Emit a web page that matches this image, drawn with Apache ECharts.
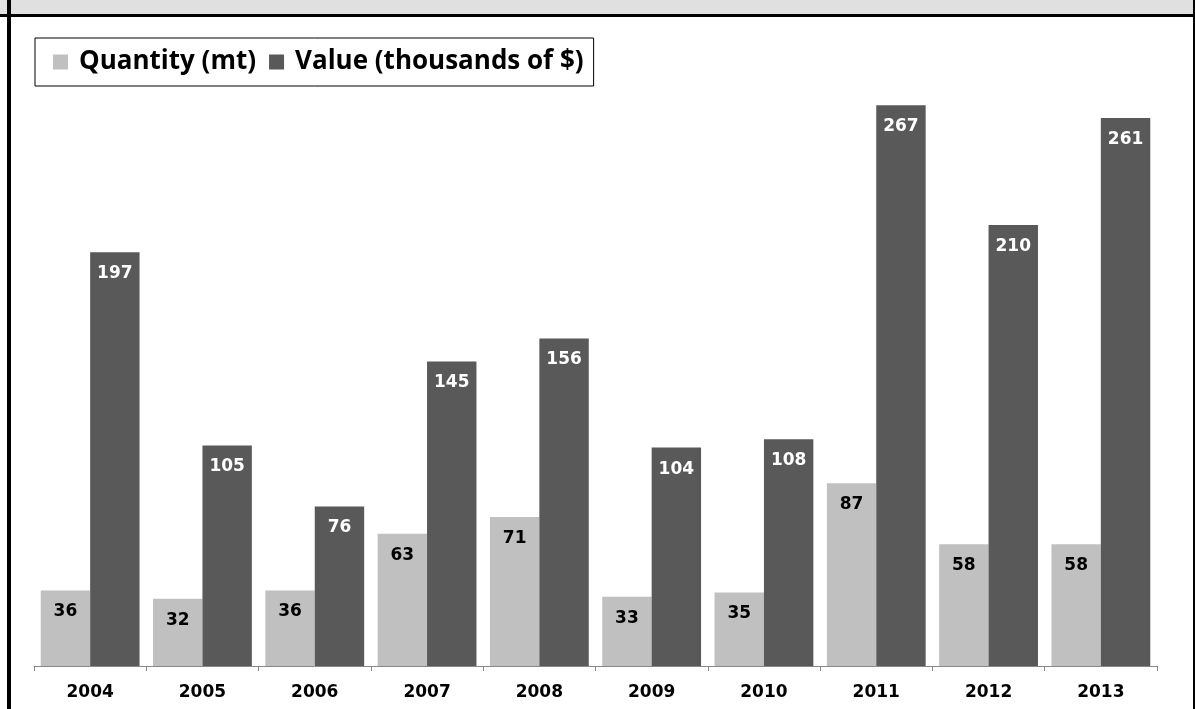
<!DOCTYPE html>
<html>
<head>
<meta charset="utf-8">
<script src="https://cdn.jsdelivr.net/npm/echarts@6/dist/echarts.min.js"></script>
<style>
  html, body { margin: 0; padding: 0; background: #fff; }
  #chart { width: 1195px; height: 709px; }
</style>
</head>
<body>
<div id="chart"></div>
<script>
// years on the x axis
var years = ["2004", "2005", "2006", "2007", "2008", "2009", "2010", "2011", "2012", "2013"];
// Quantity (mt)
var quantity = [36, 32, 36, 63, 71, 33, 35, 87, 58, 58];
// Value (thousands of $)
var value = [197, 105, 76, 145, 156, 104, 108, 267, 210, 261];

var chart = echarts.init(document.getElementById("chart"));

var labelFont = "DejaVu Sans";

var option = {
    animation: false,
    backgroundColor: "#ffffff",
    graphic: [
        // grey header band + frame
        { type: "rect", shape: { x: 0, y: 0, width: 1195, height: 15 }, style: { fill: "#e0e0e0" }, z: 0 },
        { type: "rect", shape: { x: 0, y: 14, width: 1195, height: 3 }, style: { fill: "#000" }, z: 1 },
        { type: "rect", shape: { x: 7, y: 0, width: 4, height: 709 }, style: { fill: "#000" }, z: 1 },
        { type: "rect", shape: { x: 1193, y: 0, width: 3, height: 709 }, style: { fill: "#000" }, z: 1 }
    ],
    legend: {
        left: 35,
        top: 38,
        padding: [11, 10, 11, 18],
        borderColor: "#000",
        borderWidth: 1,
        itemWidth: 15,
        itemHeight: 15,
        itemGap: 13,
        icon: "rect",
        formatter: function (name) {
            return "{t|" + name + "}";
        },
        textStyle: {
            fontFamily: "Open Sans",
            fontWeight: "bold",
            fontSize: 26,
            color: "#000",
            rich: {
                t: {
                    fontFamily: "Open Sans",
                    fontWeight: "bold",
                    fontSize: 26,
                    color: "#000",
                    padding: [0, 0, 0, 6]
                }
            }
        },
        data: ["Quantity (mt)", "Value (thousands of $)"]
    },
    grid: {
        left: 34,
        right: 38,
        top: 36,
        bottom: 43
    },
    xAxis: {
        type: "category",
        data: years,
        axisLine: { lineStyle: { color: "#888", width: 1 } },
        axisTick: { show: true, length: 5, lineStyle: { color: "#888" } },
        axisLabel: {
            margin: 18,
            fontFamily: labelFont,
            fontWeight: "bold",
            fontSize: 17,
            color: "#000"
        }
    },
    yAxis: {
        type: "value",
        min: 0,
        max: 300,
        show: false,
        splitLine: { show: false }
    },
    series: [
        {
            name: "Quantity (mt)",
            type: "bar",
            data: quantity,
            barGap: "0%",
            barCategoryGap: "12%",
            itemStyle: { color: "#c0c0c0" },
            label: {
                show: true,
                position: "insideTop",
                distance: 13,
                fontFamily: labelFont,
                fontWeight: "bold",
                fontSize: 17,
                color: "#000"
            }
        },
        {
            name: "Value (thousands of $)",
            type: "bar",
            data: value,
            barGap: "0%",
            barCategoryGap: "12%",
            itemStyle: { color: "#595959" },
            label: {
                show: true,
                position: "insideTop",
                distance: 13,
                fontFamily: labelFont,
                fontWeight: "bold",
                fontSize: 17,
                color: "#fff"
            }
        }
    ]
};

chart.setOption(option);
</script>
</body>
</html>
